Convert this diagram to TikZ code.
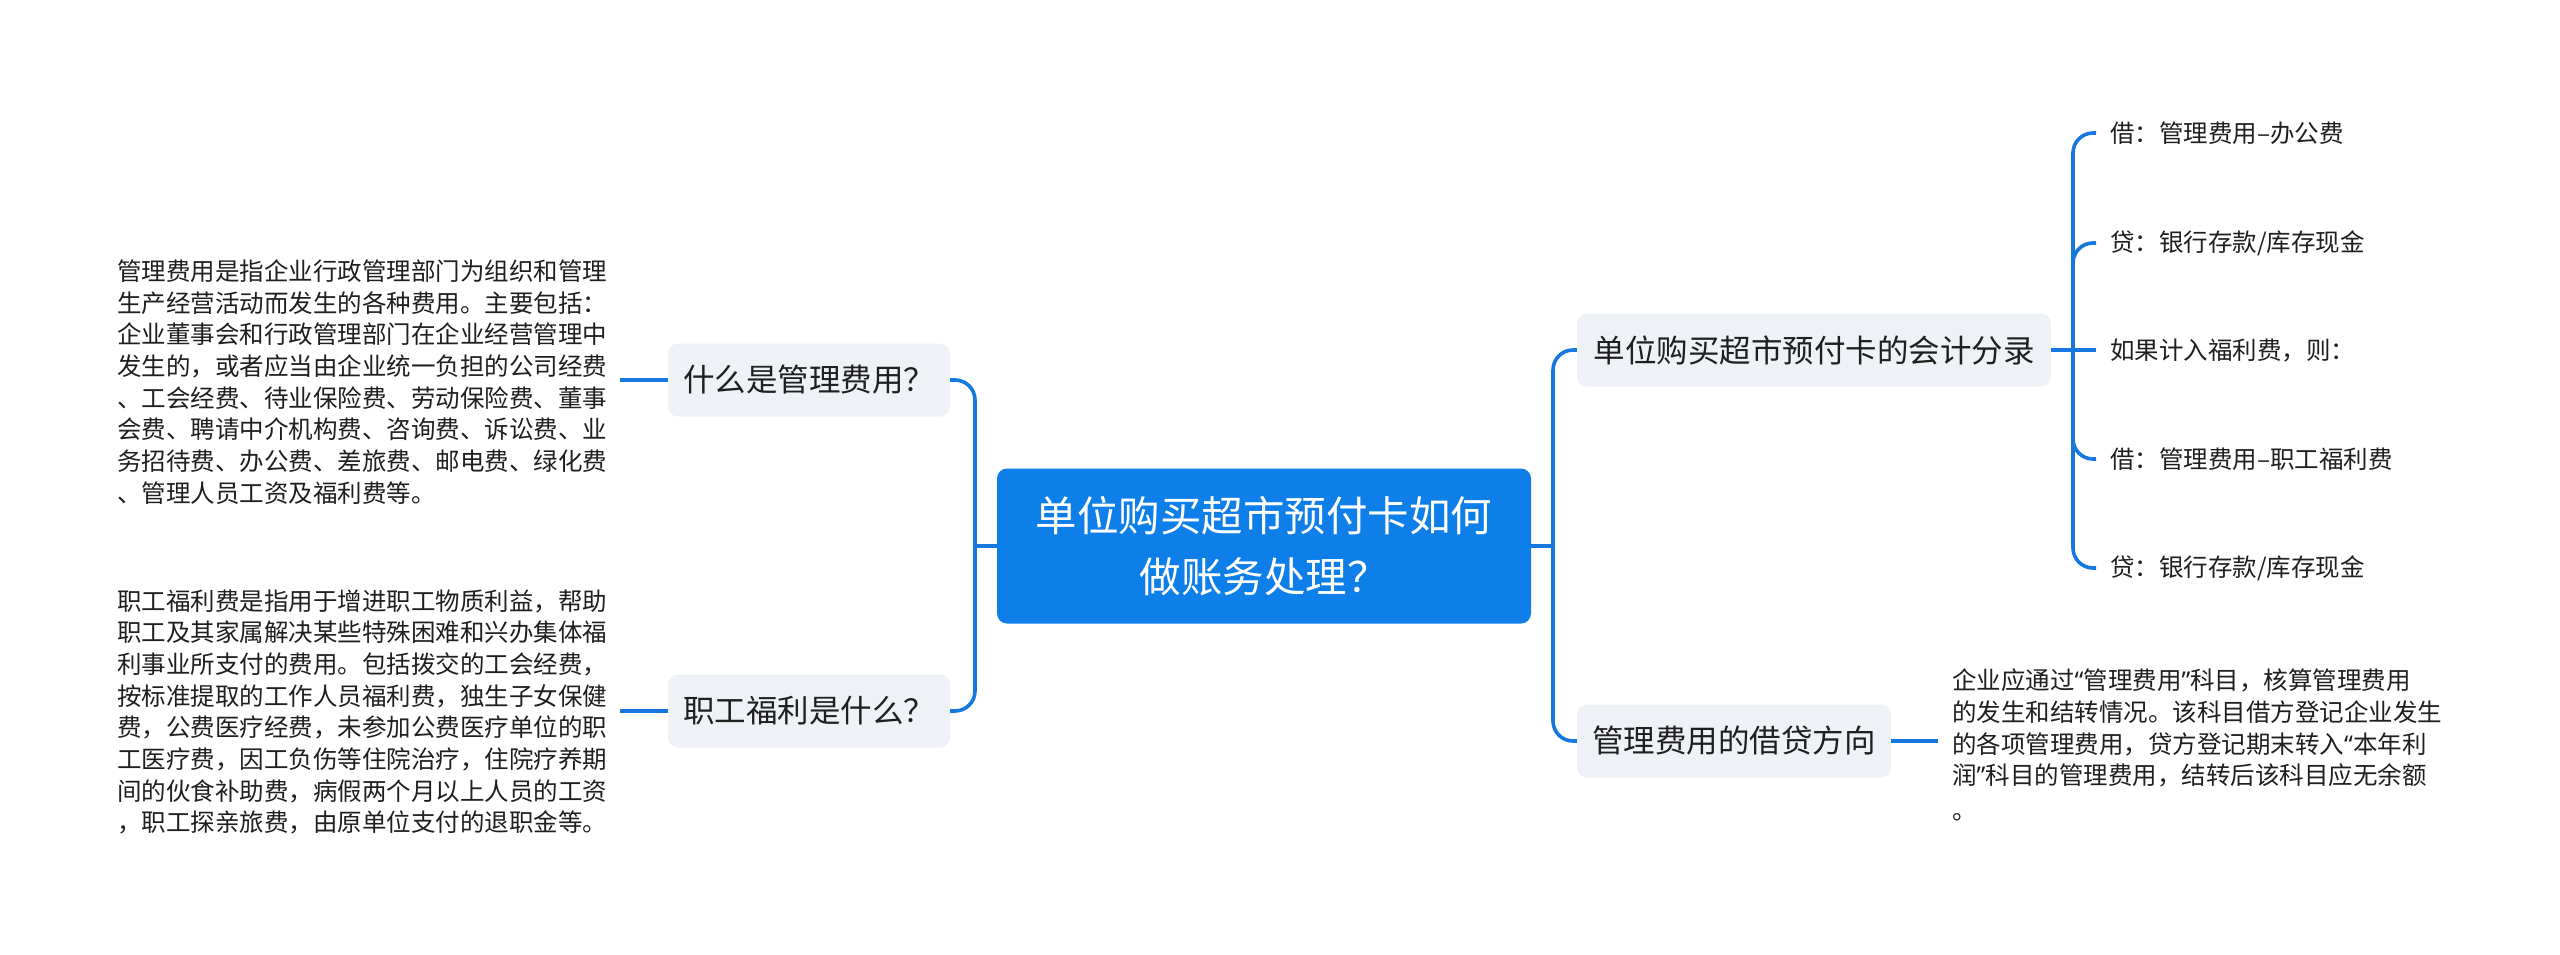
\documentclass[tikz,border=0pt]{standalone}
\usepackage{fontspec}
\setmainfont{Noto Sans CJK SC}
\newfontfamily\latinq{Noto Sans}
\usepackage{tikz}
\usetikzlibrary{positioning}
\definecolor{RootBlue}{HTML}{0E7FE9}
\definecolor{LinkBlue}{HTML}{1677DE}
\definecolor{TopicGrey}{HTML}{EEF1F5}
\definecolor{InkGrey}{HTML}{1F1F1F}

\begin{document}
\begin{tikzpicture}[x=1pt,y=-1pt,
  rootbox/.style={fill=RootBlue,rounded corners=10pt,text=white,align=center,minimum width=534pt,minimum height=155pt,inner sep=0pt,font=\fontsize{41.5}{61}\selectfont},
  topicbox/.style={fill=TopicGrey,rounded corners=10pt,text=InkGrey,minimum height=73pt,inner sep=0pt,font=\fontsize{31.5}{38}\selectfont},
  notetext/.style={anchor=west,align=left,inner sep=0pt,text=InkGrey,font=\fontsize{24.5}{31.7}\selectfont},
  link/.style={draw=LinkBlue,line width=3.6pt,rounded corners=20pt}]
\fill[white] (0,0) rectangle (2560,955);
\useasboundingbox (0,0) rectangle (2560,955);
% centre
\node[rootbox] (root) at (1264,546) {单位购买超市预付卡如何\\做账务处理？};
% left side
\node[topicbox,minimum width=282pt] (q1) at (809,380) {什么是管理费用？};
\node[topicbox,minimum width=282pt] (q2) at (809,711) {职工福利是什么？};
\node[notetext] (a1) at (117,382) {管理费用是指企业行政管理部门为组织和管理\\生产经营活动而发生的各种费用。主要包括：\\企业董事会和行政管理部门在企业经营管理中\\发生的，或者应当由企业统一负担的公司经费\\、工会经费、待业保险费、劳动保险费、董事\\会费、聘请中介机构费、咨询费、诉讼费、业\\务招待费、办公费、差旅费、邮电费、绿化费\\、管理人员工资及福利费等。};
\node[notetext] (a2) at (117,712) {职工福利费是指用于增进职工物质利益，帮助\\职工及其家属解决某些特殊困难和兴办集体福\\利事业所支付的费用。包括拨交的工会经费，\\按标准提取的工作人员福利费，独生子女保健\\费，公费医疗经费，未参加公费医疗单位的职\\工医疗费，因工负伤等住院治疗，住院疗养期\\间的伙食补助费，病假两个月以上人员的工资\\，职工探亲旅费，由原单位支付的退职金等。};
% right side
\node[topicbox,minimum width=474pt] (r1) at (1814,350) {单位购买超市预付卡的会计分录};
\node[topicbox,minimum width=314pt] (r2) at (1734,741) {管理费用的借贷方向};
\node[notetext] (k1) at (2110,133) {借：管理费用–办公费};
\node[notetext] (k2) at (2110,243) {贷：银行存款/库存现金};
\node[notetext] (k3) at (2110,351) {如果计入福利费，则：};
\node[notetext] (k4) at (2110,459) {借：管理费用–职工福利费};
\node[notetext] (k5) at (2110,568) {贷：银行存款/库存现金};
\node[notetext] (b1) at (1952,745) {企业应通过{\latinq “}管理费用{\latinq ”}科目，核算管理费用\\的发生和结转情况。该科目借方登记企业发生\\的各项管理费用，贷方登记期末转入{\latinq “}本年利\\润{\latinq ”}科目的管理费用，结转后该科目应无余额\\[3pt]。};
% connectors
\coordinate (lj) at (975,546);
\coordinate (rj) at (1553,546);
\coordinate (kj) at (2073,350);
\draw[link] (root.west) -- (lj);
\draw[link] (q1.east) -| (lj);
\draw[link] (q2.east) -| (lj);
\draw[link,shorten >=13pt] (q1.west) -- (q1.west -| a1.east);
\draw[link,shorten >=13pt] (q2.west) -- (q2.west -| a2.east);
\draw[link] (root.east) -- (rj);
\draw[link] (r1.west) -| (rj);
\draw[link] (r2.west) -| (rj);
\draw[link,shorten >=14pt] (r2.east) -- (r2.east -| b1.west);
\draw[link,shorten >=14pt] (r1.east) -- (r1.east -| k3.west);
\foreach \k in {k1,k2,k4,k5}
  \draw[link,shorten <=14pt] (\k.west) -| (kj);
\end{tikzpicture}
\end{document}
